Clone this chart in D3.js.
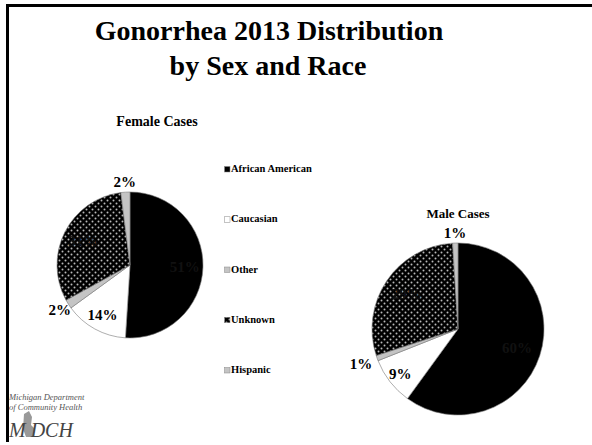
<!DOCTYPE html>
<html><head><meta charset="utf-8">
<script src="https://cdn.jsdelivr.net/npm/d3@7"></script>
<style>body{margin:0;background:#fff}svg{display:block}</style>
</head><body>
<svg id="c" width="592" height="445"></svg>
<script>
const categories = ["African American","Caucasian","Other","Unknown","Hispanic"];
const femaleValues = [51,14,2,31,2];
const maleValues = [60,9,1,29,1];
const femaleLabels = ["51%","14%","2%","31%","2%"];
const maleLabels = ["60%","9%","1%","29%","1%"];

const svg = d3.select("#c");
const serif = "'Liberation Serif','Times New Roman',serif";
const defs = svg.append("defs");
const pat = defs.append("pattern").attr("id","dots").attr("patternUnits","userSpaceOnUse")
  .attr("width",6).attr("height",6);
pat.append("rect").attr("width",6).attr("height",6).attr("fill","#000");
pat.append("circle").attr("cx",1.5).attr("cy",1.5).attr("r",1).attr("fill","#b8b8b8");
pat.append("circle").attr("cx",4.5).attr("cy",4.5).attr("r",1).attr("fill","#b8b8b8");

const fills = d3.scaleOrdinal().domain(categories).range(["#000","#fff","#c4c4c4","url(#dots)","#c4c4c4"]);

// frame
svg.append("line").attr("x1",7).attr("y1",5.5).attr("x2",592).attr("y2",5.5).attr("stroke","#000").attr("stroke-width",3);
svg.append("line").attr("x1",7.5).attr("y1",4).attr("x2",7.5).attr("y2",442).attr("stroke","#000").attr("stroke-width",3);

// title
svg.append("text").attr("x",269).attr("y",40).attr("text-anchor","middle").attr("font-family",serif)
  .attr("font-weight","bold").attr("font-size",28).text("Gonorrhea 2013 Distribution");
svg.append("text").attr("x",268).attr("y",75).attr("text-anchor","middle").attr("font-family",serif)
  .attr("font-weight","bold").attr("font-size",28).text("by Sex and Race");

svg.append("text").attr("x",157).attr("y",126).attr("text-anchor","middle").attr("font-family",serif)
  .attr("font-weight","bold").attr("font-size",14).text("Female Cases");
svg.append("text").attr("x",458).attr("y",218).attr("text-anchor","middle").attr("font-family",serif)
  .attr("font-weight","bold").attr("font-size",13).text("Male Cases");

function drawPie(cx, cy, r, values, labels, labelPos){
  const data = categories.map((c,i)=>({cat:c,v:values[i],lab:labels[i]}));
  const arcs = d3.pie().sort(null).value(d=>d.v)(data);
  const arc = d3.arc().innerRadius(0).outerRadius(r);
  const g = svg.append("g").attr("transform",`translate(${cx},${cy})`);
  g.selectAll("path").data(arcs).join("path").attr("d",arc)
    .attr("fill",d=>fills(d.data.cat)).attr("stroke","#777").attr("stroke-width",0.6);
  g.selectAll("text").data(arcs).join("text")
    .attr("transform",(d,i)=>{
      const p = labelPos[i];
      const a = (d.startAngle+d.endAngle)/2;
      return `translate(${Math.sin(a)*r*p},${-Math.cos(a)*r*p})`;
    })
    .attr("text-anchor","middle").attr("dominant-baseline","central")
    .attr("font-family",serif).attr("font-weight","bold").attr("font-size",15)
    .attr("fill",d=>(d.data.cat==="African American"||d.data.cat==="Unknown")?"#111":"#000")
    .text(d=>d.data.lab);
}
drawPie(130,265,73,femaleValues,femaleLabels,[0.75,0.78,1.14,0.72,1.14]);
drawPie(458,329,86,maleValues,maleLabels,[0.72,0.85,1.2,0.72,1.12]);

// legend
const ly = d3.scalePoint().domain(categories).range([172,373]);
const lg = svg.append("g");
categories.forEach(c=>{
  lg.append("rect").attr("x",224.5).attr("y",ly(c)-5.5).attr("width",5.5).attr("height",5.5)
    .attr("fill",fills(c)).attr("stroke","#888").attr("stroke-width",0.5);
  lg.append("text").attr("x",231).attr("y",ly(c)).attr("font-family",serif).attr("font-weight","bold")
    .attr("font-size",10.5).text(c);
});

// logo
const logo = svg.append("g").attr("fill","#555");
logo.append("text").attr("x",9).attr("y",400).attr("font-family",serif).attr("font-style","italic").attr("font-size",8.5).text("Michigan Department");
logo.append("text").attr("x",9).attr("y",410).attr("font-family",serif).attr("font-style","italic").attr("font-size",8.5).text("of Community Health");
logo.append("path").attr("d","M24,414 L29,411 L32,417 L31,425 L35,429 L33,437 L26,437 L23,429 Z").attr("fill","#999");
logo.append("text").attr("x",9).attr("y",437).attr("font-family",serif).attr("font-style","italic").attr("font-size",20).attr("fill","#444").text("M DCH");
</script>
</body></html>
